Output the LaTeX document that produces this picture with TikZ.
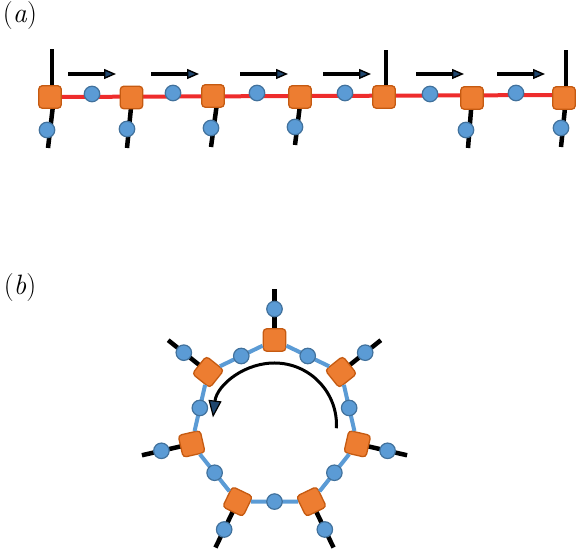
\documentclass[tikz,border=0pt]{standalone}
\usepackage{fontspec}
\usetikzlibrary{arrows.meta,backgrounds}
\definecolor{siteorange}{RGB}{237,125,49}
\definecolor{siteedge}{RGB}{197,90,17}
\definecolor{bondblue}{RGB}{91,155,213}
\definecolor{bondedge}{RGB}{65,113,156}
\definecolor{chainred}{RGB}{238,44,44}
\definecolor{headblue}{RGB}{31,70,110}
\begin{document}
\begin{tikzpicture}[x=1pt,y=1pt,
		site/.style={draw=siteedge,fill=siteorange,line width=1.3pt,rounded corners=3.5pt,minimum size=22.5pt,inner sep=0pt},
		bond/.style={circle,draw=bondedge,fill=bondblue,line width=1.2pt,minimum size=15.5pt,inner sep=0pt},
		leg/.style={line width=4.5pt},
		chain/.style={draw=chainred,line width=4pt},
		ring/.style={draw=bondblue,line width=4pt},
		sweep/.style={line width=4pt,-{Triangle[length=12pt,width=10pt,fill=headblue,line width=1.4pt]}},
		turn/.style={line width=3pt,-{Triangle[length=17pt,width=13pt,fill=headblue,line width=1.2pt]}},
		lbl/.style={font=\fontsize{28}{32}\selectfont}]
	\useasboundingbox (0,0) rectangle (578,551);
	\node[lbl] (la) at (20,535) {(\textit{a})};
	\node[site] (s1) at (50,454) {};
	\node[site] (s2) at (131.5,453.5) {};
	\node[site] (s3) at (213,455) {};
	\node[site] (s4) at (300,454) {};
	\node[site] (s5) at (384,454) {};
	\node[site] (s6) at (472,453) {};
	\node[site] (s7) at (564,453) {};
	\node[bond] (b1) at (92,457) {};
	\node[bond] (b2) at (173,458) {};
	\node[bond] (b3) at (257,458) {};
	\node[bond] (b4) at (345,458) {};
	\node[bond] (b5) at (430,457) {};
	\node[bond] (b6) at (516,458) {};
	\node[bond] (p1) at (47,421) {};
	\node[bond] (p2) at (127,422) {};
	\node[bond] (p3) at (211,423) {};
	\node[bond] (p4) at (295,424) {};
	\node[bond] (p6) at (466,421) {};
	\node[bond] (p7) at (561,423) {};
	\coordinate (e1) at (48,403);
	\coordinate (e2) at (127,403);
	\coordinate (e3) at (211,404);
	\coordinate (e4) at (295,406);
	\coordinate (e6) at (468,403);
	\coordinate (e7) at (561,404);
	\coordinate (t1) at (52,502);
	\coordinate (t5) at (386,501);
	\coordinate (t7) at (566,501);
	\begin{scope}[on background layer]
		\draw[chain] (s1.center) -- ([yshift=3pt]s7.center);
		\draw[leg] ([xshift=4pt]s1.center) -- (e1)  ([xshift=0.5pt]s2.center) -- (e2)  ([xshift=5pt]s3.center) -- (e3);
		\draw[leg] ([xshift=1pt]s4.center) -- (e4)  (s6.center) -- (e6)  ([xshift=2pt]s7.center) -- (e7);
		\draw[leg] ([xshift=2pt]s1.center) -- (t1)  ([xshift=2pt]s5.center) -- (t5)  ([xshift=2pt]s7.center) -- (t7);
	\end{scope}
	\foreach \x in {68,151,240,323,416,497}
		\draw[sweep] (\x,477) -- ++(48,0);
	\node[lbl] (lb) at (20,263) {(\textit{b})};
	\begin{scope}[shift={(274.5,126)}]
		\foreach \k in {0,...,6}{
			\pgfmathsetmacro\ang{90-\k*360/7}
			\node[site,rotate=\ang-90] (q\k) at (\ang:85) {};
			\node[bond] (u\k) at (\ang:116) {};
			\coordinate (o\k) at (\ang:136);
		}
		\foreach \k [evaluate=\k as \n using {int(mod(\k+1,7))}] in {0,...,6}
			\draw[ring] (q\k) -- node[bond] (r\k) {} (q\n);
		\begin{scope}[on background layer]
			\foreach \k in {0,...,6}
				\draw[leg] (q\k.center) -- (o\k);
		\end{scope}
		\draw[turn] (-3:62) arc[start angle=-3,end angle=173,radius=62];
	\end{scope}
\end{tikzpicture}
\end{document}
